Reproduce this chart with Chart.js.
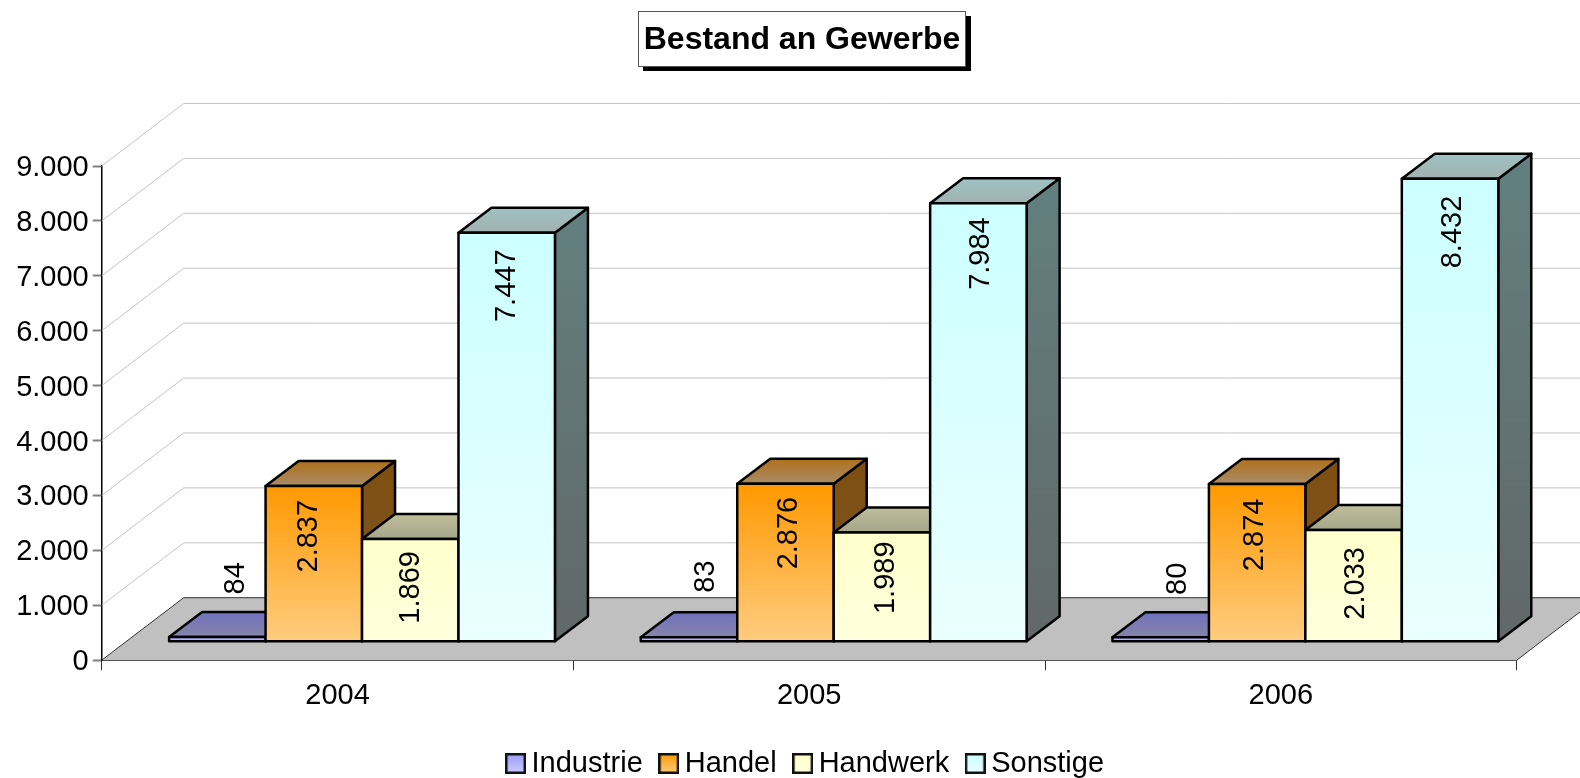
<!DOCTYPE html>
<html>
<head>
<meta charset="utf-8">
<title>Bestand an Gewerbe</title>
<script src="https://cdn.jsdelivr.net/npm/chart.js@4"></script>
<style>
    body { margin: 0; background: #fff; }
    canvas { display: block; }
</style>
</head>
<body>
<canvas id="chart" width="1580" height="778"></canvas>
<script>
// === Data ===
var categories = ['2004', '2005', '2006'];
var seriesNames = ['Industrie', 'Handel', 'Handwerk', 'Sonstige'];
var industrie = [84, 83, 80];
var handel = [2837, 2876, 2874];
var handwerk = [1869, 1989, 2033];
var sonstige = [7447, 7984, 8432];
var titleText = 'Bestand an Gewerbe';

// === Colours ===
var frontTop = ['#9999FF', '#FF9900', '#FFFFCC', '#CCFFFF'];
var frontBottom = ['#CCCCFF', '#FFCC80', '#FFFFDD', '#EBFFFF'];
var lidBack = ['#7070C0', '#B0701A', '#BFBF9B', '#9EC2C2'];
var lidFront = ['#8585A8', '#A88C68', '#A5A58B', '#A3B1B1'];
var sideTop = ['#4D4D80', '#7F4E0F', '#80806A', '#637F7F'];
var sideBottom = ['#4D4D80', '#7A5A2A', '#80806A', '#616868'];

// === 3D geometry (pixels) ===
var WALL_DX = 82, WALL_DY = -62.5;   // front plane to back wall
var BAR_DX = 24.5, BAR_DY = -18.5;   // front plane to bar front
var DEPTH_DX = 33, DEPTH_DY = -25;   // bar depth
var OUTLINE = 2.5;
var FONT = '"Liberation Sans", Arial, sans-serif';

// Value label nudges per series and year, the reference places them unevenly
var labelDx = [[18.8, 17.3, 17.7], [-5, 3.8, -2.5], [1, 4.5, 2.3], [0, 2.5, 2.5]];
var labelDy = [[-42.7, -44.4, -42.4], [14, 13, 14.7], [12, 9, 17], [16.7, 14, 17]];

function formatDe(v) {
    return String(v).replace(/\B(?=(\d{3})+$)/g, '.');
}

function vGradient(c, y0, y1, from, to) {
    var g = c.createLinearGradient(0, y0, 0, y1);
    g.addColorStop(0, from);
    g.addColorStop(1, to);
    return g;
}

function polygon(c, pts, fill, stroke, width) {
    c.beginPath();
    pts.forEach(function(p, i) {
        if (i === 0) c.moveTo(p[0], p[1]); else c.lineTo(p[0], p[1]);
    });
    c.closePath();
    if (fill) { c.fillStyle = fill; c.fill(); }
    if (stroke) { c.strokeStyle = stroke; c.lineWidth = width; c.stroke(); }
}

function makeSwatch(i) {
    var s = document.createElement('canvas');
    s.width = 21;
    s.height = 21;
    var c = s.getContext('2d');
    c.fillStyle = vGradient(c, 0, 21, frontTop[i], frontBottom[i]);
    c.fillRect(0, 0, 21, 21);
    c.strokeStyle = '#111';
    c.lineWidth = 2.5;
    c.strokeRect(1.25, 1.25, 18.5, 18.5);
    return s;
}
var swatches = seriesNames.map(function(n, i) { return makeSwatch(i); });

// Title and legend sit off the canvas centre in the reference
var centerPlugin = {
    id: 'centerBlocks',
    afterLayout: function(chart) {
        chart.titleBlock.left += 43.65;
        chart.titleBlock.right += 43.65;
        chart.legend.left += 50.7;
        chart.legend.right += 50.7;
    }
};

// Back wall, side wall grid and floor, behind the bars
var wallPlugin = {
    id: 'wall',
    beforeDatasetsDraw: function(chart) {
        var c = chart.ctx, area = chart.chartArea, y = chart.scales.y;
        var left = area.left, bottom = area.bottom, right = area.right;
        c.save();
        polygon(c, [
            [left, bottom],
            [left + WALL_DX, bottom + WALL_DY],
            [right + WALL_DX, bottom + WALL_DY],
            [right, bottom]
        ], '#C0C0C0');
        y.ticks.forEach(function(t) {
            var py = y.getPixelForValue(t.value);
            c.beginPath();
            c.moveTo(left, py);
            c.lineTo(left + WALL_DX, py + WALL_DY);
            c.lineTo(right + WALL_DX, py + WALL_DY);
            c.strokeStyle = t.value === 0 ? '#333333' : '#C4C4C4';
            c.lineWidth = 1;
            c.stroke();
        });
        c.beginPath();
        c.moveTo(right, bottom);
        c.lineTo(right + WALL_DX, bottom + WALL_DY);
        c.strokeStyle = '#333333';
        c.stroke();
        c.restore();
    }
};

// Bars go left to right so each one covers the side of its neighbour.
// Lid and side are added here, the front comes from the bar element itself.
var barBoxPlugin = {
    id: 'barBox',
    beforeDatasetsDraw: function(chart) {
        var c = chart.ctx;
        c.save();
        c.translate(BAR_DX, BAR_DY);
        c.lineJoin = 'round';
        chart.data.datasets.forEach(function(ds, i) {
            var meta = chart.getDatasetMeta(i);
            meta.data.forEach(function(bar) {
                var l = bar.x - bar.width / 2, r = bar.x + bar.width / 2;
                var t = bar.y, b = bar.base;
                polygon(c, [
                    [r, t], [r + DEPTH_DX, t + DEPTH_DY],
                    [r + DEPTH_DX, b + DEPTH_DY], [r, b]
                ], vGradient(c, t + DEPTH_DY, b, sideTop[i], sideBottom[i]), '#000', OUTLINE);
                polygon(c, [
                    [l, t], [l + DEPTH_DX, t + DEPTH_DY],
                    [r + DEPTH_DX, t + DEPTH_DY], [r, t]
                ], vGradient(c, t + DEPTH_DY, t, lidBack[i], lidFront[i]), '#000', OUTLINE);
            });
            meta.controller.draw();
            c.lineWidth = OUTLINE;
            c.strokeStyle = '#000';
            meta.data.forEach(function(bar) {
                c.strokeRect(bar.x - bar.width / 2, bar.y, bar.width, bar.base - bar.y);
            });
        });
        c.restore();
        return false;
    }
};

// Rotated value labels
var valueLabelPlugin = {
    id: 'valueLabels',
    afterDraw: function(chart) {
        var c = chart.ctx;
        c.save();
        c.font = '29px ' + FONT;
        c.fillStyle = '#000';
        c.textBaseline = 'middle';
        chart.data.datasets.forEach(function(ds, i) {
            chart.getDatasetMeta(i).data.forEach(function(bar, k) {
                c.save();
                c.translate(bar.x + BAR_DX + labelDx[i][k], bar.y + BAR_DY + labelDy[i][k]);
                c.rotate(-Math.PI / 2);
                c.textAlign = i === 0 ? 'left' : 'right';
                c.fillText(formatDe(ds.data[k]), 0, 0);
                c.restore();
            });
        });
        c.restore();
    }
};

// Title box with its hard shadow
var titleBoxPlugin = {
    id: 'titleBox',
    beforeDraw: function(chart) {
        var c = chart.ctx;
        c.save();
        c.fillStyle = '#000';
        c.fillRect(643, 16, 328, 55);
        c.fillStyle = '#fff';
        c.fillRect(638.5, 11.5, 327, 55);
        c.strokeStyle = '#555';
        c.lineWidth = 1;
        c.strokeRect(638.5, 11.5, 327, 55);
        c.restore();
    }
};

// The y labels sit a little lower than Chart.js puts them
function lowerLabels(scale) {
    if (scale.labelsLowered) return;
    scale.labelsLowered = true;
    var drawLabels = scale.drawLabels;
    scale.drawLabels = function(area) {
        var c = scale.ctx;
        c.save();
        c.translate(0, 2);
        drawLabels.call(scale, area);
        c.restore();
    };
}

function makeDataset(i, values) {
    return {
        label: seriesNames[i],
        data: values,
        clip: false,
        borderWidth: 0,
        categoryPercentage: 0.818,
        barPercentage: 1,
        backgroundColor: function(ctx) {
            var y = ctx.chart.scales.y;
            if (ctx.type !== 'data' || !ctx.chart.chartArea || !y) return frontTop[i];
            var top = y.getPixelForValue(values[ctx.dataIndex]), base = y.getPixelForValue(0);
            if (!isFinite(top) || !isFinite(base)) return frontTop[i];
            return vGradient(ctx.chart.ctx, top, base, frontTop[i], frontBottom[i]);
        }
    };
}

new Chart(document.getElementById('chart').getContext('2d'), {
    type: 'bar',
    data: {
        labels: categories,
        datasets: [
            makeDataset(0, industrie),
            makeDataset(1, handel),
            makeDataset(2, handwerk),
            makeDataset(3, sonstige)
        ]
    },
    plugins: [titleBoxPlugin, centerPlugin, wallPlugin, barBoxPlugin, valueLabelPlugin],
    options: {
        responsive: false,
        animation: false,
        layout: { padding: { left: 0, right: 63.3, top: 0, bottom: -10 } },
        plugins: {
            tooltip: { enabled: false },
            title: {
                display: true,
                text: titleText,
                color: '#000',
                font: { family: FONT, size: 32, weight: 'bold' },
                padding: { top: 21, bottom: 106.6 }
            },
            legend: {
                position: 'bottom',
                labels: {
                    usePointStyle: true,
                    boxWidth: 3,
                    boxHeight: 21,
                    padding: 24.5,
                    color: '#000',
                    font: { family: FONT, size: 29 },
                    generateLabels: function(chart) {
                        return Chart.defaults.plugins.legend.labels.generateLabels(chart).map(function(item, i) {
                            item.pointStyle = swatches[i];
                            return item;
                        });
                    }
                }
            }
        },
        scales: {
            x: {
                grid: { drawOnChartArea: false, tickLength: 10, tickColor: '#333333', tickWidth: 1 },
                border: { color: '#333333', width: 2 },
                ticks: { color: '#000', padding: 8.5, font: { family: FONT, size: 29 }, maxRotation: 0 },
                afterFit: function(scale) { scale.height = 64.3; }
            },
            y: {
                min: 0,
                max: 9000,
                grid: { drawOnChartArea: false, tickLength: 9, tickColor: '#808080', tickWidth: 2 },
                border: { color: '#000', width: 1.5 },
                ticks: {
                    stepSize: 1000,
                    color: '#000',
                    padding: 4,
                    font: { family: FONT, size: 29 },
                    callback: function(v) { return formatDe(v); }
                },
                afterFit: function(scale) {
                    scale.width = 101.7;
                    lowerLabels(scale);
                }
            }
        }
    }
});
</script>
</body>
</html>
